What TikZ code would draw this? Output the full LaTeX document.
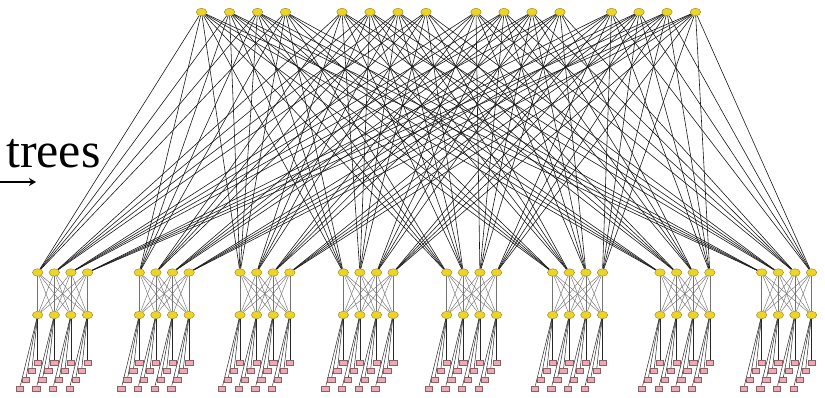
\documentclass[tikz,border=0pt]{standalone}
\usepackage{fontspec}
\setmainfont{Liberation Serif}
\usetikzlibrary{shapes.geometric,arrows.meta}
\definecolor{swfill}{RGB}{236,212,40}
\definecolor{swdraw}{RGB}{150,132,20}
\definecolor{hfill}{RGB}{234,170,182}
\definecolor{hdraw}{RGB}{140,95,100}
\pgfdeclarelayer{bg}
\pgfsetlayers{bg,main}
\begin{document}
\begin{tikzpicture}[x=1pt,y=-1pt,
 sw/.style={ellipse,draw=swdraw,fill=swfill,line width=0.4pt,minimum width=10.5pt,minimum height=7.5pt,inner sep=0pt},
 host/.style={rectangle,draw=hdraw,fill=hfill,line width=0.4pt,minimum width=7.3pt,minimum height=5pt,inner sep=0pt},
 coreline/.style={line width=0.6pt,black!90},
 podline/.style={line width=0.45pt,black!55},
 hostline/.style={line width=0.5pt,black!85}]
\useasboundingbox (0,0) rectangle (825,398);
% core switches
\foreach \x [count=\j from 0] in {201.5,229.5,257.5,285.5,342,370,398,426,476,504,532,560,611.5,639,667,695.5}
  \node[sw] (c\j) at (\x,12) {};
% pods
\foreach \px [count=\p from 0] in {37.7,139.3,240,343.3,446.7,552.7,660,761.7} {
  \foreach \i in {0,...,3} {
    \node[sw] (a\p-\i) at (\px+16.6*\i,272.5) {};
    \node[sw] (e\p-\i) at (\px+16.6*\i,315) {};
    \foreach \k in {0,...,3}
      \node[host] (h\p-\i-\k) at (\px+16.6*\i-6*\k,362.5+8.6*\k) {};
  }
}
\begin{pgfonlayer}{bg}
\foreach \j in {0,...,15} {
  \pgfmathtruncatemacro\g{\j/4}
  \foreach \p in {0,...,7} \draw[coreline] (c\j) -- (a\p-\g);
}
\foreach \p in {0,...,7} \foreach \i in {0,...,3} {
  \foreach \m in {0,...,3} \draw[podline] (a\p-\i) -- (e\p-\m);
  \foreach \k in {0,...,3} \draw[hostline] (e\p-\i) -- (h\p-\i-\k);
}
\end{pgfonlayer}
% label
\node[anchor=base west,inner sep=0pt,font=\fontsize{50}{50}\selectfont] (lbl) at (6,168) {trees};
\coordinate (ar0) at (0,182);
\coordinate (ar1) at (36,182);
\draw[line width=1.4pt,-{Stealth[length=7pt,width=8pt]}] (ar0) -- (ar1);
\end{tikzpicture}
\end{document}
